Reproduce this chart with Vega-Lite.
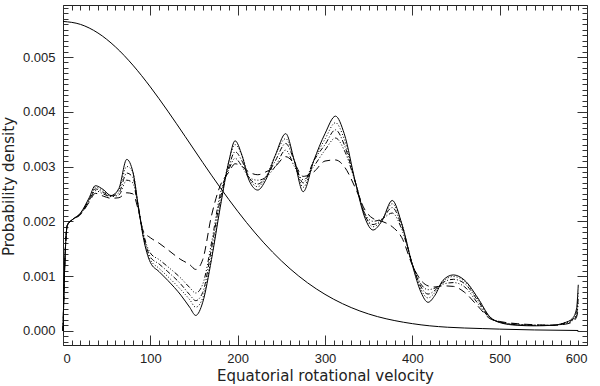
{
  "$schema": "https://vega.github.io/schema/vega-lite/v6.json",
  "autosize": "none",
  "width": 524,
  "height": 340,
  "padding": {"left": 63, "top": 5, "right": 13, "bottom": 41},
  "background": "white",
  "config": {
    "view": {"stroke": "#222", "strokeWidth": 1},
    "axis": {
      "domain": false, "grid": false, "tickColor": "#333", "tickWidth": 1,
      "labelFont": "Liberation Sans", "labelFontSize": 13, "labelColor": "#222",
      "titleFont": "DejaVu Sans", "titleFontSize": 15, "titleFontWeight": "normal", "titleColor": "#222"
    },
    "line": {"color": "black", "strokeWidth": 1, "interpolate": "monotone"}
  },
  "datasets": {
    "gauss": [
      {"v": 0, "d": 0.00565}, {"v": 20, "d": 0.005596}, {"v": 40, "d": 0.005439}, {"v": 60, "d": 0.005186},
      {"v": 80, "d": 0.004852}, {"v": 100, "d": 0.004454}, {"v": 120, "d": 0.004012}, {"v": 140, "d": 0.003546},
      {"v": 160, "d": 0.003074}, {"v": 180, "d": 0.002615}, {"v": 200, "d": 0.002183}, {"v": 220, "d": 0.001787},
      {"v": 240, "d": 0.001436}, {"v": 260, "d": 0.001132}, {"v": 280, "d": 0.000876}, {"v": 300, "d": 0.000665},
      {"v": 320, "d": 0.000495}, {"v": 340, "d": 0.000361}, {"v": 360, "d": 0.000259}, {"v": 380, "d": 0.000185},
      {"v": 400, "d": 0.00013}, {"v": 420, "d": 0.00009}, {"v": 440, "d": 0.000065}, {"v": 460, "d": 0.00005},
      {"v": 480, "d": 0.00004}, {"v": 500, "d": 0.00003}, {"v": 540, "d": 0.000015}, {"v": 590, "d": 0.000005}
    ],
    "curves": [
      {"v": 0, "S": 0, "L1": 0, "L2": 0, "L3": 0, "L4": 0},
      {"v": 2, "S": 0.0012, "L1": 0.0012, "L2": 0.0012, "L3": 0.0012, "L4": 0.0012},
      {"v": 5, "S": 0.00193, "L1": 0.00193, "L2": 0.00193, "L3": 0.00193, "L4": 0.00193},
      {"v": 10, "S": 0.00202, "L1": 0.00202, "L2": 0.00202, "L3": 0.00202, "L4": 0.00202},
      {"v": 20, "S": 0.00215, "L1": 0.00214, "L2": 0.00214, "L3": 0.00213, "L4": 0.00212},
      {"v": 30, "S": 0.00243, "L1": 0.00241, "L2": 0.00239, "L3": 0.00237, "L4": 0.00235},
      {"v": 37, "S": 0.00265, "L1": 0.00262, "L2": 0.00259, "L3": 0.00256, "L4": 0.00251},
      {"v": 46, "S": 0.00258, "L1": 0.00256, "L2": 0.00253, "L3": 0.0025, "L4": 0.00246},
      {"v": 55, "S": 0.00247, "L1": 0.00247, "L2": 0.00246, "L3": 0.00245, "L4": 0.00242},
      {"v": 64, "S": 0.0026, "L1": 0.00257, "L2": 0.00252, "L3": 0.00248, "L4": 0.00243},
      {"v": 73, "S": 0.00313, "L1": 0.003, "L2": 0.00288, "L3": 0.00275, "L4": 0.00252},
      {"v": 80, "S": 0.0029, "L1": 0.0029, "L2": 0.0028, "L3": 0.0027, "L4": 0.0025},
      {"v": 86, "S": 0.0023, "L1": 0.0023, "L2": 0.00228, "L3": 0.00226, "L4": 0.00222},
      {"v": 92, "S": 0.0017, "L1": 0.00172, "L2": 0.00175, "L3": 0.00178, "L4": 0.00182},
      {"v": 100, "S": 0.00125, "L1": 0.0013, "L2": 0.00135, "L3": 0.00142, "L4": 0.0017},
      {"v": 110, "S": 0.00108, "L1": 0.00114, "L2": 0.00122, "L3": 0.0013, "L4": 0.0016},
      {"v": 120, "S": 0.00092, "L1": 0.00099, "L2": 0.00108, "L3": 0.00117, "L4": 0.00148},
      {"v": 135, "S": 0.00065, "L1": 0.00075, "L2": 0.00085, "L3": 0.00096, "L4": 0.0013},
      {"v": 145, "S": 0.00043, "L1": 0.00057, "L2": 0.00066, "L3": 0.00079, "L4": 0.00121},
      {"v": 152, "S": 0.00028, "L1": 0.00043, "L2": 0.00055, "L3": 0.00069, "L4": 0.00112},
      {"v": 160, "S": 0.00052, "L1": 0.0006, "L2": 0.0007, "L3": 0.00085, "L4": 0.0013},
      {"v": 170, "S": 0.0013, "L1": 0.00135, "L2": 0.0015, "L3": 0.0016, "L4": 0.0021},
      {"v": 180, "S": 0.00225, "L1": 0.0023, "L2": 0.0024, "L3": 0.0025, "L4": 0.00265},
      {"v": 190, "S": 0.0031, "L1": 0.0031, "L2": 0.003, "L3": 0.00295, "L4": 0.0029},
      {"v": 197, "S": 0.00347, "L1": 0.0034, "L2": 0.00327, "L3": 0.00315, "L4": 0.00305},
      {"v": 205, "S": 0.0032, "L1": 0.0032, "L2": 0.0031, "L3": 0.003, "L4": 0.003},
      {"v": 213, "S": 0.00275, "L1": 0.0028, "L2": 0.0028, "L3": 0.0028, "L4": 0.0029},
      {"v": 223, "S": 0.00257, "L1": 0.00263, "L2": 0.00268, "L3": 0.00275, "L4": 0.00285},
      {"v": 232, "S": 0.00275, "L1": 0.0028, "L2": 0.0028, "L3": 0.0028, "L4": 0.0029},
      {"v": 243, "S": 0.0032, "L1": 0.0032, "L2": 0.0031, "L3": 0.003, "L4": 0.003},
      {"v": 255, "S": 0.0036, "L1": 0.00351, "L2": 0.00342, "L3": 0.0033, "L4": 0.00318},
      {"v": 265, "S": 0.0031, "L1": 0.0031, "L2": 0.0031, "L3": 0.003, "L4": 0.00305},
      {"v": 275, "S": 0.00254, "L1": 0.00262, "L2": 0.0027, "L3": 0.00276, "L4": 0.00282},
      {"v": 287, "S": 0.0031, "L1": 0.0031, "L2": 0.0031, "L3": 0.003, "L4": 0.0029},
      {"v": 300, "S": 0.0036, "L1": 0.0035, "L2": 0.0034, "L3": 0.0033, "L4": 0.0031},
      {"v": 312, "S": 0.00392, "L1": 0.0038, "L2": 0.00367, "L3": 0.00352, "L4": 0.00312},
      {"v": 322, "S": 0.0036, "L1": 0.0035, "L2": 0.0034, "L3": 0.0033, "L4": 0.003},
      {"v": 335, "S": 0.0027, "L1": 0.0027, "L2": 0.0027, "L3": 0.0027, "L4": 0.0026},
      {"v": 346, "S": 0.00205, "L1": 0.0021, "L2": 0.0021, "L3": 0.00213, "L4": 0.0022},
      {"v": 355, "S": 0.00184, "L1": 0.0019, "L2": 0.00194, "L3": 0.002, "L4": 0.00205},
      {"v": 365, "S": 0.002, "L1": 0.00202, "L2": 0.00203, "L3": 0.00204, "L4": 0.002},
      {"v": 377, "S": 0.00238, "L1": 0.00232, "L2": 0.00225, "L3": 0.00215, "L4": 0.0019},
      {"v": 388, "S": 0.00195, "L1": 0.00195, "L2": 0.0019, "L3": 0.00185, "L4": 0.0017},
      {"v": 400, "S": 0.0012, "L1": 0.00122, "L2": 0.00122, "L3": 0.00122, "L4": 0.0012},
      {"v": 410, "S": 0.0007, "L1": 0.00075, "L2": 0.0008, "L3": 0.00085, "L4": 0.00092},
      {"v": 418, "S": 0.00052, "L1": 0.0006, "L2": 0.00067, "L3": 0.00075, "L4": 0.00082},
      {"v": 426, "S": 0.00065, "L1": 0.0007, "L2": 0.00074, "L3": 0.00078, "L4": 0.0008},
      {"v": 435, "S": 0.00092, "L1": 0.0009, "L2": 0.00088, "L3": 0.00085, "L4": 0.00082},
      {"v": 447, "S": 0.00102, "L1": 0.00099, "L2": 0.00094, "L3": 0.00088, "L4": 0.00081},
      {"v": 460, "S": 0.00092, "L1": 0.0009, "L2": 0.00086, "L3": 0.0008, "L4": 0.0007},
      {"v": 475, "S": 0.0006, "L1": 0.00058, "L2": 0.00055, "L3": 0.0005, "L4": 0.00045},
      {"v": 489, "S": 0.00025, "L1": 0.00025, "L2": 0.00024, "L3": 0.00023, "L4": 0.00022},
      {"v": 500, "S": 0.00015, "L1": 0.00016, "L2": 0.00016, "L3": 0.00016, "L4": 0.00017},
      {"v": 520, "S": 0.0001, "L1": 0.00011, "L2": 0.00011, "L3": 0.00012, "L4": 0.00013},
      {"v": 540, "S": 0.00009, "L1": 0.0001, "L2": 0.0001, "L3": 0.0001, "L4": 0.00011},
      {"v": 560, "S": 0.0001, "L1": 0.0001, "L2": 0.0001, "L3": 0.0001, "L4": 0.0001},
      {"v": 575, "S": 0.00015, "L1": 0.00015, "L2": 0.00014, "L3": 0.00013, "L4": 0.00012},
      {"v": 583, "S": 0.00022, "L1": 0.0002, "L2": 0.0002, "L3": 0.00018, "L4": 0.00016},
      {"v": 588, "S": 0.0004, "L1": 0.00035, "L2": 0.0003, "L3": 0.00028, "L4": 0.00025},
      {"v": 590, "S": 0.00084, "L1": 0.0007, "L2": 0.0006, "L3": 0.0005, "L4": 0.0004}
    ]
  },
  "resolve": {"axis": {"x": "independent", "y": "independent"}},
  "layer": [
    {
      "data": {"name": "gauss"},
      "mark": {"type": "line"},
      "encoding": {
        "x": {"field": "v", "type": "quantitative", "scale": {"domain": [0, 600], "nice": false, "zero": false},
              "axis": {"orient": "bottom", "title": "Equatorial rotational velocity", "values": [0, 100, 200, 300, 400, 500, 600],
                       "format": "d", "tickSize": -10, "labelPadding": 17, "titleBaseline": "alphabetic", "titleY": 35}},
        "y": {"field": "d", "type": "quantitative", "scale": {"domain": [-0.00026, 0.00595], "nice": false, "zero": false},
              "axis": {"orient": "left", "title": "Probability density", "values": [0, 0.001, 0.002, 0.003, 0.004, 0.005],
                       "format": ".3f", "tickSize": -10, "labelPadding": 18, "titleBaseline": "alphabetic", "titleX": -50, "titleY": 181}}
      }
    },
    {
      "data": {"name": "curves"},
      "mark": {"type": "line"},
      "encoding": {
        "x": {"field": "v", "type": "quantitative", "scale": {"domain": [0, 600], "nice": false, "zero": false},
              "axis": {"orient": "bottom", "title": null, "labels": false, "tickSize": -5,
                       "values": [0,10,20,30,40,50,60,70,80,90,110,120,130,140,150,160,170,180,190,210,220,230,240,250,260,270,280,290,310,320,330,340,350,360,370,380,390,410,420,430,440,450,460,470,480,490,510,520,530,540,550,560,570,580,590]}},
        "y": {"field": "S", "type": "quantitative", "scale": {"domain": [-0.00026, 0.00595], "nice": false, "zero": false},
              "axis": {"orient": "left", "title": null, "labels": false, "tickSize": -5,
                       "values": [-0.0002,-0.0001,0.0001,0.0002,0.0003,0.0004,0.0005,0.0006,0.0007,0.0008,0.0009,0.0011,0.0012,0.0013,0.0014,0.0015,0.0016,0.0017,0.0018,0.0019,0.0021,0.0022,0.0023,0.0024,0.0025,0.0026,0.0027,0.0028,0.0029,0.0031,0.0032,0.0033,0.0034,0.0035,0.0036,0.0037,0.0038,0.0039,0.0041,0.0042,0.0043,0.0044,0.0045,0.0046,0.0047,0.0048,0.0049,0.0051,0.0052,0.0053,0.0054,0.0055,0.0056,0.0057,0.0058,0.0059]}}
      }
    },
    {
      "data": {"name": "curves"},
      "mark": {"type": "line", "strokeDash": [1, 2]},
      "encoding": {
        "x": {"field": "v", "type": "quantitative", "scale": {"domain": [0, 600], "nice": false, "zero": false},
              "axis": {"orient": "top", "title": null, "labels": false, "tickSize": -10, "values": [0, 100, 200, 300, 400, 500, 600]}},
        "y": {"field": "L1", "type": "quantitative", "scale": {"domain": [-0.00026, 0.00595], "nice": false, "zero": false},
              "axis": {"orient": "right", "title": null, "labels": false, "tickSize": -10, "values": [0, 0.001, 0.002, 0.003, 0.004, 0.005]}}
      }
    },
    {
      "data": {"name": "curves"},
      "mark": {"type": "line", "strokeDash": [5, 2, 1, 2]},
      "encoding": {
        "x": {"field": "v", "type": "quantitative", "scale": {"domain": [0, 600], "nice": false, "zero": false},
              "axis": {"orient": "top", "title": null, "labels": false, "tickSize": -5,
                       "values": [0,10,20,30,40,50,60,70,80,90,110,120,130,140,150,160,170,180,190,210,220,230,240,250,260,270,280,290,310,320,330,340,350,360,370,380,390,410,420,430,440,450,460,470,480,490,510,520,530,540,550,560,570,580,590]}},
        "y": {"field": "L2", "type": "quantitative", "scale": {"domain": [-0.00026, 0.00595], "nice": false, "zero": false},
              "axis": {"orient": "right", "title": null, "labels": false, "tickSize": -5,
                       "values": [-0.0002,-0.0001,0.0001,0.0002,0.0003,0.0004,0.0005,0.0006,0.0007,0.0008,0.0009,0.0011,0.0012,0.0013,0.0014,0.0015,0.0016,0.0017,0.0018,0.0019,0.0021,0.0022,0.0023,0.0024,0.0025,0.0026,0.0027,0.0028,0.0029,0.0031,0.0032,0.0033,0.0034,0.0035,0.0036,0.0037,0.0038,0.0039,0.0041,0.0042,0.0043,0.0044,0.0045,0.0046,0.0047,0.0048,0.0049,0.0051,0.0052,0.0053,0.0054,0.0055,0.0056,0.0057,0.0058,0.0059]}}
      }
    },
    {
      "data": {"name": "curves"},
      "mark": {"type": "line", "strokeDash": [5, 2, 1, 2, 1, 2, 1, 2]},
      "encoding": {
        "x": {"field": "v", "type": "quantitative", "scale": {"domain": [0, 600], "nice": false, "zero": false}, "axis": null},
        "y": {"field": "L3", "type": "quantitative", "scale": {"domain": [-0.00026, 0.00595], "nice": false, "zero": false}, "axis": null}
      }
    },
    {
      "data": {"name": "curves"},
      "mark": {"type": "line", "strokeDash": [8, 5]},
      "encoding": {
        "x": {"field": "v", "type": "quantitative", "scale": {"domain": [0, 600], "nice": false, "zero": false}, "axis": null},
        "y": {"field": "L4", "type": "quantitative", "scale": {"domain": [-0.00026, 0.00595], "nice": false, "zero": false}, "axis": null}
      }
    }
  ]
}
